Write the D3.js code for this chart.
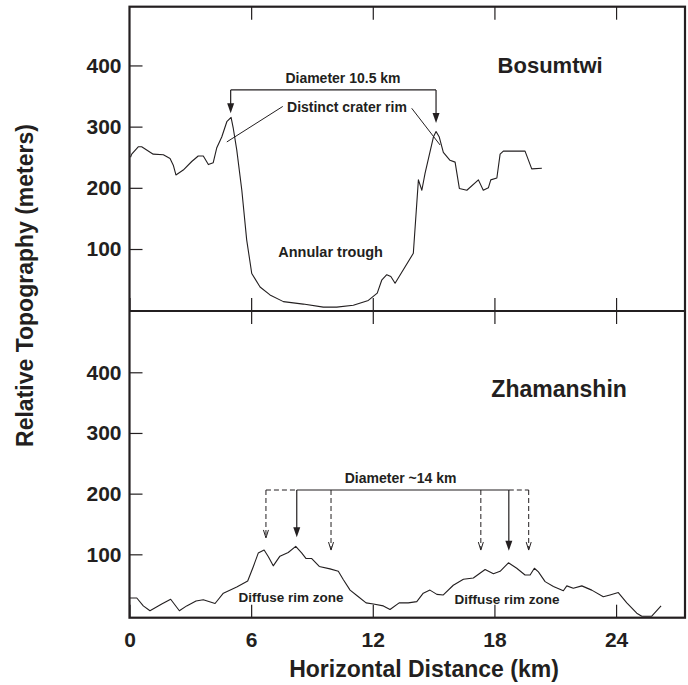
<!DOCTYPE html>
<html>
<head>
<meta charset="utf-8">
<script src="https://cdn.jsdelivr.net/npm/d3@7"></script>
<style>
  body { margin: 0; background: #fff; }
  svg text { font-family: "Liberation Sans", Arial, Helvetica, sans-serif; font-weight: bold; fill: #231f20; }
</style>
</head>
<body>
<svg id="chart"></svg>
<script>
// tick labels
var xTicks = [0, 6, 12, 18, 24];
var yTicks = [100, 200, 300, 400];

// Bosumtwi profile (km, m)
var bosumtwiKm = [0.05, 0.11, 0.43, 0.60, 1.17, 1.67, 2.00, 2.16, 2.29, 2.65, 3.07, 3.39, 3.64, 3.89, 4.13,
    4.30, 4.55, 4.80, 5.01, 5.12, 5.29, 5.54, 5.78, 6.03, 6.44, 6.93, 7.59, 8.57, 9.56, 10.22,
    11.04, 11.78, 12.22, 12.44, 12.69, 12.89, 13.10, 14.00, 14.25, 14.42, 14.58, 14.99, 15.12, 15.28,
    15.48, 15.81, 16.06, 16.27, 16.64, 17.21, 17.45, 17.70, 17.82, 18.12, 18.28, 18.44, 19.51,
    19.84, 20.34];
var bosumtwiElev = [250, 255, 267, 267, 255, 254, 248, 237, 221, 229, 243, 252, 252, 238, 241,
    265, 283, 308, 315, 297, 262, 196, 115, 60, 38, 25, 14, 10, 5, 5,
    8, 16, 28, 49, 58, 55, 44, 93, 213, 196, 224, 283, 292, 283,
    258, 245, 242, 199, 196, 213, 196, 200, 213, 216, 255, 260, 260,
    231, 232];

// Zhamanshin profile (km, m)
var zhamanshinKm = [0.02, 0.36, 0.68, 1.01, 1.59, 2.03, 2.46, 2.82, 3.28, 3.64, 4.22, 4.63, 5.29, 5.83,
    6.11, 6.35, 6.64, 6.85, 7.09, 7.42, 7.83, 8.20, 8.50, 8.71, 8.99, 9.36, 9.89, 10.30, 10.55,
    10.88, 11.29, 11.67, 12.03, 12.52, 12.85, 13.30, 13.75, 14.17, 14.49, 14.82, 15.16, 15.48,
    15.97, 16.47, 16.96, 17.54, 17.95, 18.28, 18.69, 19.10, 19.51, 19.76, 19.97, 20.17, 20.50,
    20.91, 21.40, 21.57, 21.89, 22.31, 22.80, 23.37, 23.70, 24.11, 24.53, 25.02, 25.27, 25.76, 26.22];
var zhamanshinElev = [28, 28, 15, 7, 18, 26, 7, 15, 23, 25, 19, 36, 46, 56,
    80, 102, 107, 96, 81, 97, 103, 113, 102, 93, 93, 80, 76, 72, 58,
    41, 30, 20, 18, 15, 9, 20, 20, 22, 36, 41, 34, 33,
    49, 59, 61, 75, 68, 72, 86, 77, 66, 66, 77, 71, 55,
    47, 40, 48, 44, 48, 41, 30, 33, 37, 20, 3, -2, -2, 15];

// annotation anchors (km, m)
var bosBracket = 360;
var bosArrowKm = [4.99, 15.12];
var bosArrowTip = [322, 306];
var zhaBracket = 206;
var zhaSolidKm = [8.25, 18.71];
var zhaSolidTip = [128, 106];
var zhaDashKm = [6.73, 9.94, 17.33, 19.69];
var zhaDashTip = [127, 107, 107, 107];

var svgWidth = 688, svgHeight = 685;
var left = 129.5, right = 685;

var svg = d3.select("#chart")
    .attr("width", svgWidth)
    .attr("height", svgHeight);

var xScale = d3.scaleLinear().domain([0, 27.4]).range([left, right]);

var line = d3.line()
    .x(function(d) { return xScale(d[0]); })
    .y(function(d) { return d.y; });

function zip(a, b) {
    return a.map(function(v, i) { return [v, b[i]]; });
}

function drawPanel(km, elev, yScale, top, bottom, showXLabels) {
    var g = svg.append("g");

    // y ticks, inward
    var yAxis = d3.axisLeft(yScale).tickValues(yTicks).tickSize(-13).tickPadding(8);
    var ya = g.append("g").attr("transform", "translate(" + left + ",0)").call(yAxis);
    ya.select(".domain").remove();
    ya.selectAll("line").attr("stroke", "#231f20").attr("stroke-width", 1.2);
    ya.selectAll("text").style("font-size", "21px").attr("fill", "#231f20");

    // x ticks on top edge
    var xt = g.append("g").attr("transform", "translate(0," + top + ")")
        .call(d3.axisTop(xScale).tickValues(xTicks.slice(1)).tickSize(-13).tickFormat(""));
    xt.select(".domain").remove();
    xt.selectAll("line").attr("stroke", "#231f20").attr("stroke-width", 1.2);

    // x ticks on bottom edge
    var xb = g.append("g").attr("transform", "translate(0," + bottom + ")")
        .call(d3.axisBottom(xScale).tickValues(xTicks).tickSize(-13).tickPadding(14)
            .tickFormat(showXLabels ? d3.format("d") : ""));
    xb.select(".domain").remove();
    xb.selectAll("line").attr("stroke", "#231f20").attr("stroke-width", 1.2);
    xb.selectAll("text").style("font-size", "21px").attr("fill", "#231f20");

    var pts = zip(km, elev).map(function(p) { p.y = yScale(p[1]); return p; });
    g.append("path")
        .datum(pts)
        .attr("fill", "none")
        .attr("stroke", "#231f20")
        .attr("stroke-width", 1.1)
        .attr("stroke-linejoin", "round")
        .attr("d", line);
    return g;
}

function solidArrow(g, x, yFrom, yTip) {
    g.append("line")
        .attr("x1", x).attr("x2", x).attr("y1", yFrom).attr("y2", yTip - 8)
        .attr("stroke", "#231f20").attr("stroke-width", 1.2);
    g.append("path")
        .attr("d", "M" + (x - 3.5) + "," + (yTip - 10) + "L" + (x + 3.5) + "," + (yTip - 10) + "L" + x + "," + yTip + "Z")
        .attr("fill", "#231f20");
}

function dashArrow(g, x, yFrom, yTip) {
    g.append("line")
        .attr("x1", x).attr("x2", x).attr("y1", yFrom).attr("y2", yTip - 1)
        .attr("stroke", "#231f20").attr("stroke-width", 1)
        .attr("stroke-dasharray", "5,3");
    g.append("path")
        .attr("d", "M" + (x - 2.5) + "," + (yTip - 8) + "L" + x + "," + yTip + "L" + (x + 2.5) + "," + (yTip - 8))
        .attr("fill", "none").attr("stroke", "#231f20").attr("stroke-width", 1);
}

/*
    TOP PANEL - Bosumtwi
*/
var yTop = d3.scaleLinear().domain([0, 496]).range([310.2, 6.7]);
var gTop = drawPanel(bosumtwiKm, bosumtwiElev, yTop, 6.7, 311, false);

gTop.append("line")
    .attr("x1", xScale(bosArrowKm[0])).attr("x2", xScale(bosArrowKm[1]))
    .attr("y1", yTop(bosBracket)).attr("y2", yTop(bosBracket))
    .attr("stroke", "#231f20").attr("stroke-width", 1.2);
bosArrowKm.forEach(function(k, i) {
    solidArrow(gTop, xScale(k), yTop(bosBracket), yTop(bosArrowTip[i]));
});

// leader lines for the rim label
[[7.56, 333, 4.80, 275], [13.92, 330, 15.32, 270]].forEach(function(l) {
    gTop.append("line")
        .attr("x1", xScale(l[0])).attr("y1", yTop(l[1]))
        .attr("x2", xScale(l[2])).attr("y2", yTop(l[3]))
        .attr("stroke", "#231f20").attr("stroke-width", 1);
});

gTop.append("text").attr("x", xScale(10.53)).attr("y", yTop(371))
    .attr("text-anchor", "middle").style("font-size", "14px").text("Diameter 10.5 km");
gTop.append("text").attr("x", xScale(7.77)).attr("y", yTop(324))
    .style("font-size", "14px").text("Distinct crater rim");
gTop.append("text").attr("x", xScale(9.92)).attr("y", yTop(87))
    .attr("text-anchor", "middle").style("font-size", "14.5px").text("Annular trough");
gTop.append("text").attr("x", xScale(20.75)).attr("y", yTop(388))
    .attr("text-anchor", "middle").style("font-size", "22px").text("Bosumtwi");

/*
    BOTTOM PANEL - Zhamanshin
*/
var yBot = d3.scaleLinear().domain([0, 501]).range([615, 311]);
var gBot = drawPanel(zhamanshinKm, zhamanshinElev, yBot, 311, 617.7, true);

var by = yBot(zhaBracket);
gBot.append("line")
    .attr("x1", xScale(zhaSolidKm[0])).attr("x2", xScale(zhaSolidKm[1]))
    .attr("y1", by).attr("y2", by)
    .attr("stroke", "#231f20").attr("stroke-width", 1.2);
[[zhaDashKm[0], zhaSolidKm[0]], [zhaSolidKm[1], zhaDashKm[3]]].forEach(function(s) {
    gBot.append("line")
        .attr("x1", xScale(s[0])).attr("x2", xScale(s[1]))
        .attr("y1", by).attr("y2", by)
        .attr("stroke", "#231f20").attr("stroke-width", 1)
        .attr("stroke-dasharray", "5,3");
});
zhaSolidKm.forEach(function(k, i) {
    solidArrow(gBot, xScale(k), by, yBot(zhaSolidTip[i]));
});
zhaDashKm.forEach(function(k, i) {
    dashArrow(gBot, xScale(k), by, yBot(zhaDashTip[i]));
});

gBot.append("text").attr("x", xScale(13.37)).attr("y", yBot(217))
    .attr("text-anchor", "middle").style("font-size", "14px").text("Diameter ~14 km");
gBot.append("text").attr("x", xScale(21.19)).attr("y", yBot(359))
    .attr("text-anchor", "middle").style("font-size", "23px").text("Zhamanshin");
gBot.append("text").attr("x", xScale(7.97)).attr("y", yBot(21))
    .attr("text-anchor", "middle").style("font-size", "13.5px").text("Diffuse rim zone");
gBot.append("text").attr("x", xScale(18.62)).attr("y", yBot(18))
    .attr("text-anchor", "middle").style("font-size", "13.5px").text("Diffuse rim zone");

/*
    FRAME
*/
svg.append("rect")
    .attr("x", left).attr("y", 6.7)
    .attr("width", right - left).attr("height", 617.7 - 6.7)
    .attr("fill", "none").attr("stroke", "#231f20").attr("stroke-width", 2.2);
svg.append("line")
    .attr("x1", left).attr("x2", right).attr("y1", 311).attr("y2", 311)
    .attr("stroke", "#231f20").attr("stroke-width", 2.2);

// axis titles
svg.append("text")
    .attr("transform", "translate(33,285.5) rotate(-90)")
    .attr("text-anchor", "middle")
    .style("font-size", "23px")
    .text("Relative Topography (meters)");

svg.append("text")
    .attr("x", 424).attr("y", 676.7)
    .attr("text-anchor", "middle")
    .style("font-size", "23px")
    .text("Horizontal Distance (km)");
</script>
</body>
</html>
